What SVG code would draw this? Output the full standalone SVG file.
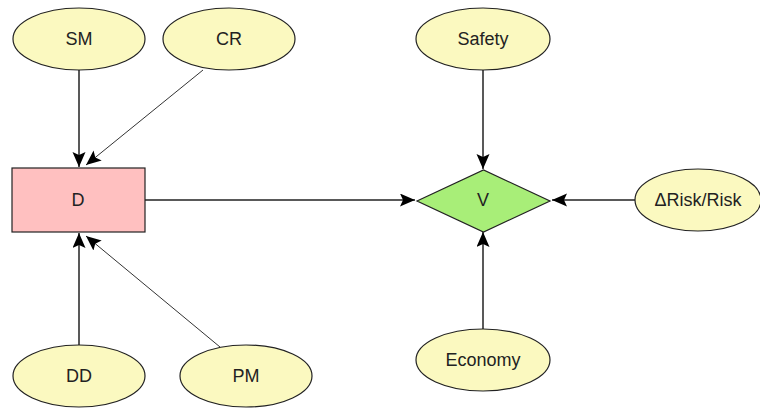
<svg xmlns="http://www.w3.org/2000/svg" width="760" height="409" viewBox="0 0 760 409">
<style>
.el{fill:#fbf9c0;stroke:#222;stroke-width:1.2}
.t{font-family:"Liberation Sans",Arial,sans-serif;font-size:18px;fill:#222;text-anchor:middle;dominant-baseline:central}
.c{stroke:#222;stroke-width:1.5;fill:none;marker-end:url(#ah)}
.c2{stroke:#333;stroke-width:1;fill:none;marker-end:url(#ah)}
</style>
<defs>
<marker id="ah" markerUnits="userSpaceOnUse" markerWidth="16" markerHeight="14" refX="15" refY="6.5" orient="auto">
<path d="M0,0 L15,6.5 L0,13 L3,6.5 z" fill="#000"/>
</marker>
</defs>
<rect width="760" height="409" fill="#fff"/>
<g id="connectors">
<line class="c" x1="79" y1="70" x2="79" y2="167"/>
<line class="c2" x1="203" y1="70" x2="86" y2="165"/>
<line class="c" x1="79" y1="345" x2="79" y2="233"/>
<line class="c2" x1="220" y1="347" x2="86" y2="236"/>
<line class="c" x1="145" y1="200" x2="415" y2="200"/>
<line class="c" x1="483" y1="70" x2="483" y2="169"/>
<line class="c" x1="635" y1="200" x2="552" y2="200"/>
<line class="c" x1="483" y1="329" x2="483" y2="232"/>
</g>
<g id="SM"><ellipse class="el" cx="79" cy="39" rx="66" ry="31"/><text class="t" x="79" y="39">SM</text></g>
<g id="CR"><ellipse class="el" cx="229" cy="39" rx="66" ry="31"/><text class="t" x="229" y="39">CR</text></g>
<g id="D"><rect x="12" y="168" width="133" height="64" fill="#ffc0c0" stroke="#222" stroke-width="1.2"/><text class="t" x="78" y="200">D</text></g>
<g id="DD"><ellipse class="el" cx="79" cy="376" rx="66" ry="31"/><text class="t" x="79" y="376">DD</text></g>
<g id="PM"><ellipse class="el" cx="246" cy="376" rx="66" ry="31"/><text class="t" x="246" y="376">PM</text></g>
<g id="Safety"><ellipse class="el" cx="483" cy="39" rx="67" ry="31"/><text class="t" x="483" y="39">Safety</text></g>
<g id="V"><polygon points="417,201 483.5,170 550,201 483.5,232" fill="#a8ee78" stroke="#222" stroke-width="1.2"/><text class="t" x="483" y="200">V</text></g>
<g id="Risk"><ellipse class="el" cx="698" cy="200" rx="63" ry="31"/><text class="t" x="698" y="200">ΔRisk/Risk</text></g>
<g id="Economy"><ellipse class="el" cx="483" cy="360" rx="67" ry="31"/><text class="t" x="483" y="360">Economy</text></g>
</svg>
